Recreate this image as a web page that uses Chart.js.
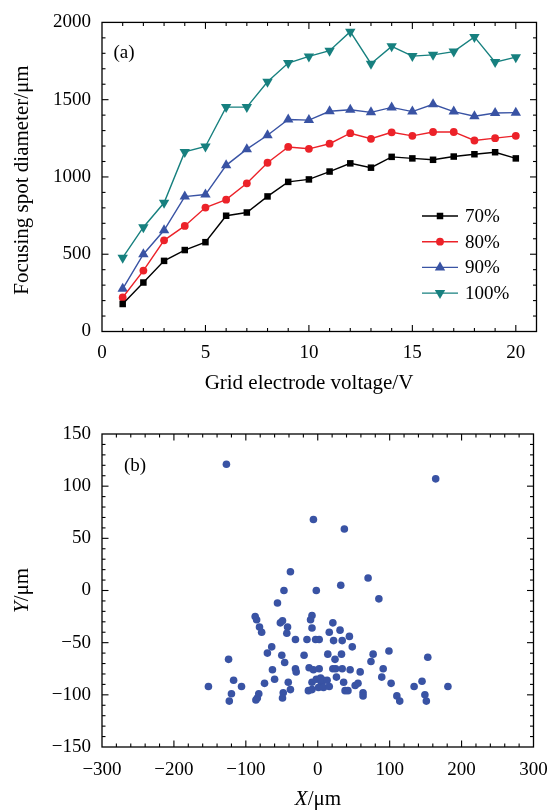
<!DOCTYPE html>
<html><head><meta charset="utf-8">
<script src="https://cdn.jsdelivr.net/npm/chart.js@4"></script>
<style>html,body{margin:0;padding:0;background:#fff;}#w1,#w2{position:absolute;left:0;width:560px;}#w1{top:0;height:400px;}#w2{top:400px;height:412px;}canvas{display:block;}</style>
</head><body>
<div id="w1"><canvas id="c1" width="560" height="400"></canvas></div>
<div id="w2"><canvas id="c2" width="560" height="412"></canvas></div>
<script>
// ---------- data (a) ----------
const voltages = [1,2,3,4,5,6,7,8,9,10,11,12,13,14,15,16,17,18,19,20];
const seriesNames = ['70%','80%','90%','100%'];
const d70  = [178,317,457,527,578,749,770,874,968,984,1035,1088,1060,1130,1120,1111,1132,1147,1160,1120];
const d80  = [220,394,590,683,802,853,959,1092,1194,1182,1215,1283,1247,1289,1266,1291,1291,1236,1251,1266];
const d90  = [276,500,655,873,886,1075,1180,1270,1372,1368,1425,1435,1418,1450,1423,1470,1423,1393,1414,1416];
const d100 = [478,675,833,1162,1197,1452,1452,1616,1737,1780,1817,1940,1733,1845,1782,1790,1811,1906,1743,1775];
const xTicksA = [0,5,10,15,20];
const yTicksA = [0,500,1000,1500,2000];
// ---------- data (b) ----------
const spotX = [-127,164,-6,37,-38,70,32,-47,-2,85,-56,
  -87,-85,-81,-78,-52,-49,-42,-43,-31,-15,-8,-10,-8,-3,2,21,16,31,44,22,34,48,
  -64,-70,-50,-46,-19,-124,14,33,24,77,74,99,153,
  -63,-31,-30,-12,-6,2,21,25,34,45,59,91,89,26,
  -117,-60,-74,-41,-38,-8,-2,4,5,8,13,-13,-8,1,8,16,36,52,56,38,42,63,63,
  102,134,145,181,110,114,149,151,-152,-106,-120,-123,-82,-84,-86,-48,-49];
const spotY = [121,107,68,59,18,12,5,0,0,-8,-12,
  -25,-28,-35,-40,-31,-29,-35,-41,-47,-47,-24,-28,-36,-47,-47,-31,-40,-38,-44,-48,-48,-54,
  -54,-60,-62,-69,-62,-66,-61,-61,-66,-61,-68,-58,-64,
  -76,-75,-78,-74,-76,-75,-75,-75,-75,-76,-78,-75,-83,-83,
  -86,-85,-89,-88,-95,-88,-85,-84,-88,-86,-86,-96,-95,-93,-93,-92,-88,-91,-89,-96,-96,-98,-101,
  -89,-92,-87,-92,-101,-106,-100,-106,-92,-92,-99,-106,-99,-103,-105,-98,-103];
const xTicksB = [-300,-200,-100,0,100,200,300];
const yTicksB = [-150,-100,-50,0,50,100,150];

const FONT = "'Liberation Serif','Times New Roman',serif";
const tickFont = {family: FONT, size: 19};
const minus = v => (v < 0 ? '\u2212' + Math.abs(v) : String(v));

// frame with inward ticks on all four sides, using the chart's scales
const framePlugin = {
  id: 'frame',
  afterDatasetsDraw(chart, args, o) {
    const {ctx, chartArea: a, scales: {x, y}} = chart;
    ctx.save();
    ctx.strokeStyle = '#000';
    ctx.lineWidth = 1.3;
    ctx.strokeRect(a.left, a.top, a.right - a.left, a.bottom - a.top);
    ctx.lineWidth = 1.1;
    const seg = (x1, y1, x2, y2) => { ctx.beginPath(); ctx.moveTo(x1, y1); ctx.lineTo(x2, y2); ctx.stroke(); };
    const isMaj = (v, m) => Math.abs(v / m - Math.round(v / m)) < 1e-6;
    const nx = Math.round((x.max - x.min) / o.xMinor);
    for (let i = 1; i < nx; i++) {
      const v = x.min + i * o.xMinor;
      const L = isMaj(v, o.xMajor) ? o.major : o.minor;
      const p = x.getPixelForValue(v);
      seg(p, a.bottom, p, a.bottom - L);
      seg(p, a.top, p, a.top + L);
    }
    const ny = Math.round((y.max - y.min) / o.yMinor);
    for (let i = 1; i < ny; i++) {
      const v = y.min + i * o.yMinor;
      const L = isMaj(v, o.yMajor) ? o.major : o.minor;
      const p = y.getPixelForValue(v);
      seg(a.left, p, a.left + L, p);
      seg(a.right, p, a.right - L, p);
    }
    ctx.restore();
  }
};

// text helper: draws runs of [text, italic]
function drawRuns(ctx, runs, cx, cy, size, rotate) {
  ctx.save();
  ctx.translate(cx, cy);
  if (rotate) ctx.rotate(-Math.PI / 2);
  ctx.fillStyle = '#000';
  ctx.textBaseline = 'middle';
  ctx.textAlign = 'left';
  let total = 0;
  runs.forEach(r => { ctx.font = (r[1] ? 'italic ' : '') + size + 'px ' + FONT; total += ctx.measureText(r[0]).width; });
  let xx = -total / 2;
  runs.forEach(r => { ctx.font = (r[1] ? 'italic ' : '') + size + 'px ' + FONT; ctx.fillText(r[0], xx, 0); xx += ctx.measureText(r[0]).width; });
  ctx.restore();
}

const textPlugin = {
  id: 'texts',
  afterDraw(chart, args, o) {
    const ctx = chart.ctx, a = chart.chartArea;
    drawRuns(ctx, o.xTitle, o.xTitleX, o.xTitleY, o.titleSize, false);
    drawRuns(ctx, o.yTitle, o.yTitleX, o.yTitleY, o.titleSize, true);
    drawRuns(ctx, [[o.panel, false]], a.left + o.panelDX, a.top + o.panelDY, o.size, false);
    if (o.legend) {
      const h = Chart.helpers;
      chart.data.datasets.forEach((ds, i) => {
        const yy = o.legend.y + i * o.legend.dy;
        const x0 = o.legend.x;
        ctx.save();
        ctx.strokeStyle = ds.borderColor; ctx.lineWidth = ds.borderWidth;
        ctx.beginPath(); ctx.moveTo(x0, yy); ctx.lineTo(x0 + 36, yy); ctx.stroke();
        ctx.fillStyle = ds.pointBackgroundColor; ctx.strokeStyle = ds.borderColor;
        h.drawPoint(ctx, {pointStyle: ds.pointStyle, rotation: ds.pointRotation || 0, radius: ds.pointRadius, borderWidth: 0}, x0 + 18, yy);
        ctx.restore();
        ctx.save();
        ctx.fillStyle = '#000'; ctx.font = o.size + 'px ' + FONT;
        ctx.textBaseline = 'middle'; ctx.textAlign = 'left';
        ctx.fillText(ds.label, x0 + 43, yy + 1);
        ctx.restore();
      });
    }
  }
};

const colors = ['#000000', '#ec2229', '#3953a4', '#17807f'];
const styles = [['rect', 4.6, 0], ['circle', 3.9, 0], ['triangle', 6, 0], ['triangle', 6, 180]];
const seriesData = [d70, d80, d90, d100];

new Chart(document.getElementById('c1'), {
  type: 'line',
  data: {
    datasets: seriesData.map((d, i) => ({
      label: seriesNames[i],
      data: voltages.map((v, k) => ({x: v, y: d[k]})),
      borderColor: colors[i], backgroundColor: colors[i], pointBackgroundColor: colors[i],
      borderWidth: 1.4, pointStyle: styles[i][0], pointRadius: styles[i][1], pointRotation: styles[i][2],
      pointBorderWidth: 0, tension: 0, clip: false
    }))
  },
  options: {
    responsive: false, animation: false, devicePixelRatio: 1,
    layout: {padding: {top: 15.5, right: 23.5, left: 0, bottom: 0}},
    plugins: {legend: {display: false}, tooltip: {enabled: false},
      frame: {xMinor: 1, xMajor: 5, yMinor: 100, yMajor: 500, major: 6.5, minor: 3.5},
      texts: {size: 19, titleSize: 21, xTitle: [['Grid electrode voltage/V', false]], xTitleX: 309, xTitleY: 383,
              yTitle: [['Focusing spot diameter/\u03bcm', false]], yTitleX: 22, yTitleY: 180,
              panel: '(a)', panelDX: 22, panelDY: 31,
              legend: {x: 422, y: 216, dy: 25.7}}},
    scales: {
      x: {type: 'linear', min: 0, max: 21,
          afterBuildTicks: s => { s.ticks = xTicksA.map(v => ({value: v})); },
          afterFit: s => { s.height = 68.5; },
          grid: {display: false, drawTicks: false}, border: {display: false},
          ticks: {font: tickFont, color: '#000', padding: 10, maxRotation: 0, callback: v => minus(v)}},
      y: {type: 'linear', min: 0, max: 2000,
          afterBuildTicks: s => { s.ticks = yTicksA.map(v => ({value: v})); },
          afterFit: s => { s.width = 102; },
          grid: {display: false, drawTicks: false}, border: {display: false},
          ticks: {font: tickFont, color: '#000', padding: 11, callback: v => minus(v)}}
    }
  },
  plugins: [framePlugin, textPlugin]
});

new Chart(document.getElementById('c2'), {
  type: 'scatter',
  data: {
    datasets: [{
      label: 'spots',
      data: spotX.map((v, k) => ({x: v, y: spotY[k]})),
      backgroundColor: '#3953a4', borderWidth: 0, pointRadius: 3.8, pointStyle: 'circle'
    }]
  },
  options: {
    responsive: false, animation: false, devicePixelRatio: 1,
    layout: {padding: {top: 34, right: 26.5, left: 0, bottom: 0}},
    plugins: {legend: {display: false}, tooltip: {enabled: false},
      frame: {xMinor: 20, xMajor: 100, yMinor: 10, yMajor: 50, major: 6.5, minor: 3.5},
      texts: {size: 19, titleSize: 21, xTitle: [['X', true], ['/\u03bcm', false]], xTitleX: 318, xTitleY: 399,
              yTitle: [['Y', true], ['/\u03bcm', false]], yTitleX: 22, yTitleY: 190.5,
              panel: '(b)', panelDX: 33, panelDY: 32}},
    scales: {
      x: {type: 'linear', min: -300, max: 300,
          afterBuildTicks: s => { s.ticks = xTicksB.map(v => ({value: v})); },
          afterFit: s => { s.height = 65; },
          grid: {display: false, drawTicks: false}, border: {display: false},
          ticks: {font: tickFont, color: '#000', padding: 12, maxRotation: 0, callback: v => minus(v)}},
      y: {type: 'linear', min: -150, max: 150,
          afterBuildTicks: s => { s.ticks = yTicksB.map(v => ({value: v})); },
          afterFit: s => { s.width = 102; },
          grid: {display: false, drawTicks: false}, border: {display: false},
          ticks: {font: tickFont, color: '#000', padding: 11, callback: v => minus(v)}}
    }
  },
  plugins: [framePlugin, textPlugin]
});
</script>
</body></html>
